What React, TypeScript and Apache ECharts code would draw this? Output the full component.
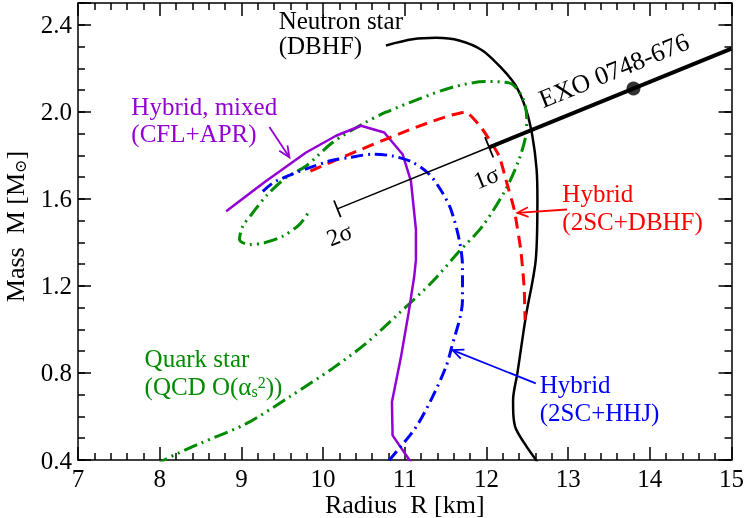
import React, { useEffect, useRef } from "react";
import * as echarts from "echarts";

const FONT = "'Liberation Serif', 'Times New Roman', 'DejaVu Serif', serif";

// x ticks (km) and y ticks (solar masses)
const xTickValues = [7, 8, 9, 10, 11, 12, 13, 14, 15];
const yTickLabels = ["0.4", "0.8", "1.2", "1.6", "2.0", "2.4"];

// Neutron star (DBHF)
const neutronR = [10.77, 11.095, 11.381, 11.666, 11.951, 12.196, 12.359, 12.482, 12.562, 12.614, 12.624, 12.604, 12.482, 12.379, 12.326, 12.33, 12.359, 12.482, 12.604, 12.66];
const neutronM = [2.305, 2.333, 2.34, 2.328, 2.282, 2.196, 2.12, 2.013, 1.89, 1.736, 1.597, 1.321, 1.059, 0.799, 0.675, 0.605, 0.545, 0.467, 0.401, 0.37];

// Quark star (QCD O(alpha_s^2))
const quarkR = [7.95, 8.06, 8.488, 9.059, 9.588, 10.117, 10.526, 10.933, 11.34, 11.667, 11.951, 12.237, 12.4, 12.482, 12.494, 12.44, 12.277, 11.993, 11.584, 11.177, 10.77, 10.484, 10.117, 9.792, 9.548, 9.303, 9.14, 9.017, 8.977, 9.099, 9.282, 9.506, 9.71, 9.833];
const quarkM = [0.37, 0.401, 0.475, 0.567, 0.69, 0.821, 0.936, 1.075, 1.22, 1.359, 1.474, 1.644, 1.782, 1.89, 1.967, 2.067, 2.133, 2.139, 2.113, 2.059, 1.998, 1.944, 1.859, 1.751, 1.698, 1.613, 1.536, 1.474, 1.413, 1.39, 1.398, 1.428, 1.482, 1.544];

// Hybrid, mixed (CFL+APR)
const mixedR = [8.814, 9.303, 9.792, 10.159, 10.465, 10.749, 10.973, 11.076, 11.137, 11.137, 11.116, 11.047, 10.954, 10.843, 10.851, 11.055, 11.1];
const mixedM = [1.5435, 1.682, 1.813, 1.89, 1.936, 1.905, 1.805, 1.682, 1.459, 1.321, 1.244, 1.076, 0.874, 0.667, 0.513, 0.401, 0.38];

// Hybrid (2SC+DBHF)
const dbhfR = [9.845, 11.748, 11.951, 12.155, 12.237, 12.339, 12.42, 12.461, 12.473];
const dbhfM = [1.727, 1.998, 1.92, 1.797, 1.69, 1.552, 1.367, 1.197, 1.044];

// Hybrid (2SC+HHJ)
const hhjR = [9.262, 9.425, 10.077, 10.322, 10.606, 10.851, 11.095, 11.3, 11.462, 11.565, 11.666, 11.707, 11.707, 11.565, 11.504, 11.34, 11.137, 10.81, 10.78];
const hhjM = [1.634, 1.682, 1.774, 1.79, 1.805, 1.797, 1.768, 1.713, 1.628, 1.551, 1.413, 1.29, 1.136, 0.905, 0.828, 0.69, 0.551, 0.398, 0.38];

// EXO 0748-676 constraint line (2 sigma -> 1 sigma thin, 1 sigma -> beyond thick)
const exoThinR = [10.175, 12.033];
const exoThinM = [1.554, 1.837];
const exoThickR = [12.033, 15.0];
const exoThickM = [1.837, 2.29];
const exoPointR = [13.8];
const exoPointM = [2.107];

const zip = (a: number[], b: number[]) => a.map((v, i) => [v, b[i]]);

export default function App() {
  const ref = useRef<HTMLDivElement>(null);
  useEffect(() => {
    const chart = echarts.init(ref.current!, undefined, { renderer: "svg" });
    const lbl = { color: "#000", fontFamily: FONT, fontSize: 25 };
    const tickStyle = { color: "#000", width: 1.5 };
    const baseAxis = {
      type: "value" as const,
      axisLine: { show: true, onZero: false, lineStyle: { color: "#000", width: 1.5 } },
      splitLine: { show: false },
    };
    chart.setOption({
      animation: false,
      grid: { left: 78, right: 14, top: 3, bottom: 58 },
      xAxis: [
        {
          ...baseAxis, position: "bottom", min: 7, max: 15, interval: 1,
          axisTick: { show: true, inside: true, length: 13, lineStyle: tickStyle },
          minorTick: { show: true, splitNumber: 5, length: 7, lineStyle: tickStyle },
          axisLabel: { ...lbl, margin: 6, formatter: (v: number) => (xTickValues.includes(v) ? String(v) : "") },
        },
        {
          ...baseAxis, position: "top", min: 7, max: 15, interval: 1,
          axisTick: { show: true, inside: true, length: 13, lineStyle: tickStyle },
          minorTick: { show: true, splitNumber: 5, length: 7, lineStyle: tickStyle },
          axisLabel: { show: false },
        },
      ],
      yAxis: [
        {
          ...baseAxis, position: "left", min: 0.4, max: 2.5, interval: 0.4,
          axisTick: { show: true, inside: true, length: 13, lineStyle: tickStyle },
          axisLabel: {
            ...lbl, margin: 6,
            formatter: (v: number) => {
              const s = v.toFixed(1);
              return yTickLabels.includes(s) ? s : "";
            },
          },
        },
        {
          ...baseAxis, position: "left", min: 0.4, max: 2.5, interval: 0.1,
          axisLine: { show: false },
          axisTick: { show: true, inside: true, length: 7, lineStyle: tickStyle },
          axisLabel: { show: false },
        },
        {
          ...baseAxis, position: "right", min: 0.4, max: 2.5, interval: 0.4,
          axisTick: { show: true, inside: true, length: 13, lineStyle: tickStyle },
          axisLabel: { show: false },
        },
        {
          ...baseAxis, position: "right", min: 0.4, max: 2.5, interval: 0.1,
          axisLine: { show: false },
          axisTick: { show: true, inside: true, length: 7, lineStyle: tickStyle },
          axisLabel: { show: false },
        },
      ],
      series: [
        { type: "line", data: zip(neutronR, neutronM), symbol: "none", smooth: 0.3, lineStyle: { color: "#000", width: 2.5 }, silent: true },
        { type: "line", data: zip(quarkR, quarkM), symbol: "none", smooth: 0.3, lineStyle: { color: "#008b00", width: 3, type: [14, 5, 2, 5, 2, 5] }, silent: true },
        { type: "line", data: zip(mixedR, mixedM), symbol: "none", smooth: false, lineStyle: { color: "#9400d3", width: 2.5 }, silent: true },
        { type: "line", data: zip(dbhfR, dbhfM), symbol: "none", smooth: 0.15, lineStyle: { color: "#ff0000", width: 3, type: [12, 7] }, silent: true },
        { type: "line", data: zip(hhjR, hhjM), symbol: "none", smooth: 0.3, lineStyle: { color: "#0000ff", width: 3, type: [12, 5, 2, 5] }, silent: true },
        { type: "line", data: zip(exoThinR, exoThinM), symbol: "none", lineStyle: { color: "#000", width: 1.5 }, silent: true },
        { type: "line", data: zip(exoThickR, exoThickM), symbol: "none", lineStyle: { color: "#000", width: 4 }, silent: true },
        { type: "scatter", data: zip(exoPointR, exoPointM), symbol: "circle", symbolSize: 14, itemStyle: { color: "#000" }, silent: true },
      ],
    });

    const px = (r: number, m: number) => chart.convertToPixel({ seriesIndex: 0 }, [r, m]) as number[];
    const els: any[] = [];
    const text = (r: number, m: number, t: string, color: string, o: any = {}) => {
      const p = px(r, m);
      els.push({
        type: "text", x: p[0], y: p[1], rotation: o.rotation || 0, z: 100,
        style: {
          text: t, fill: color, fontSize: o.fontSize || 25, fontFamily: FONT,
          align: o.align || "left", verticalAlign: "middle", rich: o.rich,
        },
      });
    };
    const arrow = (r1: number, m1: number, r2: number, m2: number, color: string) => {
      const a = px(r1, m1), b = px(r2, m2);
      const ang = Math.atan2(b[1] - a[1], b[0] - a[0]);
      const L = 12, sp = 0.42;
      const h1 = [b[0] - L * Math.cos(ang - sp), b[1] - L * Math.sin(ang - sp)];
      const h2 = [b[0] - L * Math.cos(ang + sp), b[1] - L * Math.sin(ang + sp)];
      els.push({ type: "line", z: 100, shape: { x1: a[0], y1: a[1], x2: b[0], y2: b[1] }, style: { stroke: color, lineWidth: 1.8 } });
      els.push({ type: "polyline", z: 100, shape: { points: [h1, b, h2] }, style: { stroke: color, lineWidth: 1.8, fill: null } });
    };

    // EXO line direction in pixels
    const pa = px(exoThinR[0], exoThinM[0]);
    const pb = px(exoThickR[1], exoThickM[1]);
    const dx = pb[0] - pa[0], dy = pb[1] - pa[1];
    const len = Math.hypot(dx, dy);
    const ux = dx / len, uy = dy / len;
    const nx = -uy, ny = ux;
    const rot = Math.atan2(-dy, dx);
    const sigmaTick = (r: number, m: number, h: number) => {
      const p = px(r, m);
      els.push({ type: "line", z: 100, shape: { x1: p[0] - nx * h, y1: p[1] - ny * h, x2: p[0] + nx * h, y2: p[1] + ny * h }, style: { stroke: "#000", lineWidth: 1.8 } });
    };
    sigmaTick(exoThinR[1], exoThinM[1], 11);
    sigmaTick(exoThinR[0], exoThinM[0], 9);

    text(13.56, 2.19, "EXO 0748-676", "#000", { rotation: rot, align: "center", fontSize: 26 });
    text(11.996, 1.699, "1σ", "#000", { rotation: rot, align: "center", fontSize: 24 });
    text(10.2, 1.436, "2σ", "#000", { rotation: rot, align: "center", fontSize: 24 });

    text(9.457, 2.421, "Neutron star", "#000");
    text(9.457, 2.306, "(DBHF)", "#000");
    text(7.653, 2.024, "Hybrid, mixed", "#9400d3");
    text(7.653, 1.9, "(CFL+APR)", "#9400d3");
    text(12.929, 1.623, "Hybrid", "#ff0000");
    text(12.929, 1.498, "(2SC+DBHF)", "#ff0000");
    text(12.653, 0.7475, "Hybrid", "#0000ff");
    text(12.653, 0.618, "(2SC+HHJ)", "#0000ff");
    text(7.815, 0.865, "Quark star", "#008b00");
    text(7.815, 0.737, "(QCD O(α{sub|s}{sup|2}))", "#008b00", {
      rich: {
        sub: { fontSize: 16, fontFamily: FONT, fill: "#008b00", verticalAlign: "bottom", lineHeight: 16 },
        sup: { fontSize: 16, fontFamily: FONT, fill: "#008b00", verticalAlign: "top", lineHeight: 16 },
      },
    });

    arrow(9.343, 1.93, 9.588, 1.791, "#9400d3");
    arrow(12.986, 1.551, 12.378, 1.536, "#ff0000");
    arrow(12.604, 0.752, 11.584, 0.905, "#0000ff");

    // axis titles
    const g = px(7, 0.4), h = px(15, 2.5);
    els.push({
      type: "text", x: 15, y: (g[1] + h[1]) / 2 - 5, rotation: Math.PI / 2, z: 100,
      style: {
        text: "Mass  M [M{sub|⊙}]", fill: "#000", fontSize: 26, fontFamily: FONT, align: "center", verticalAlign: "middle",
        rich: { sub: { fontSize: 16, fontFamily: "'DejaVu Serif', serif", fill: "#000", verticalAlign: "bottom", lineHeight: 16 } },
      },
    });
    els.push({
      type: "text", x: (g[0] + h[0]) / 2, y: 504, z: 100,
      style: { text: "Radius  R [km]", fill: "#000", fontSize: 26, fontFamily: FONT, align: "center", verticalAlign: "middle" },
    });

    chart.setOption({ graphic: { elements: els } });
    return () => chart.dispose();
  }, []);
  return <div ref={ref} style={{ position: "fixed", left: 0, top: 0, width: 747, height: 518 }} />;
}
